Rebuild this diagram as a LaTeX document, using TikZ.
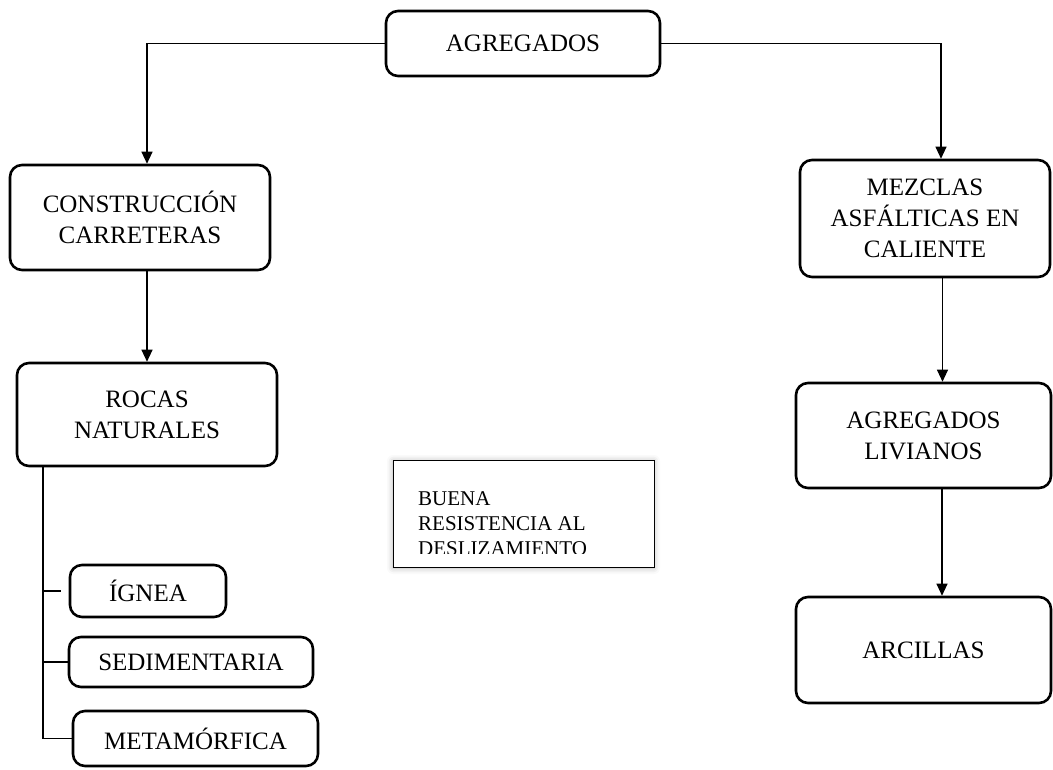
\documentclass[tikz,border=0pt]{standalone}
\usepackage{fontspec}
\setmainfont{Liberation Serif}
\usetikzlibrary{arrows.meta,shadows.blur}
\begin{document}
\begin{tikzpicture}[x=1pt,y=-1pt,
  box/.style={draw,line width=2.6pt,rounded corners=12pt,align=center,inner sep=0pt,
    font=\fontsize{25}{31}\selectfont},
  conn/.style={line width=1.1pt,-{Triangle[length=12pt,width=11pt]}},
  tree/.style={line width=1.1pt},
  note/.style={draw,line width=1pt,inner sep=0pt,fill=white,
    blur shadow={shadow xshift=0pt,shadow yshift=-1pt,shadow blur radius=6pt,shadow opacity=30}},
  notetext/.style={anchor=base west,inner sep=0pt,font=\fontsize{21}{25}\selectfont}]
\useasboundingbox (0,0) rectangle (1053,769);
\node[box,minimum width=274pt,minimum height=65pt] (agr) at (523,43.5) {AGREGADOS};
\node[box,minimum width=260pt,minimum height=105pt] (cons) at (140,217.5) {CONSTRUCCIÓN\\CARRETERAS};
\node[box,minimum width=250pt,minimum height=117pt] (mez) at (925,218.5) {MEZCLAS\\ASFÁLTICAS EN\\CALIENTE};
\node[box,minimum width=260pt,minimum height=103pt] (rocas) at (147,414.5) {ROCAS\\NATURALES};
\node[box,minimum width=255pt,minimum height=105pt] (liv) at (923.5,435.5) {AGREGADOS\\LIVIANOS};
\node[box,minimum width=255pt,minimum height=106pt] (arc) at (923.5,650) {ARCILLAS};
\node[box,minimum width=156pt,minimum height=52pt] (ig) at (148,591) {ÍGNEA};
\node[box,minimum width=244pt,minimum height=50pt] (sed) at (191,662) {SEDIMENTARIA};
\node[box,minimum width=245pt,minimum height=55pt] (met) at (195.5,738.5) {METAMÓRFICA};
\node[note,minimum width=261pt,minimum height=107pt] (buena) at (523.5,513.5) {};
\begin{scope}
  \clip (393,460) rectangle (654,553);
  \node[notetext] (b1) at (418,505) {BUENA};
  \node[notetext] (b2) at (418,530) {RESISTENCIA AL};
  \node[notetext] (b3) at (418,555) {DESLIZAMIENTO};
\end{scope}
% connectors
\draw[conn] (agr.west) -| ([xshift=7pt]cons.north);
\draw[conn] (agr.east) -| ([xshift=16pt]mez.north);
\draw[conn] (cons.south -| rocas.north) -- (rocas.north);
\draw[conn] ([xshift=19pt]liv.north |- mez.south) -- ([xshift=19pt]liv.north);
\draw[conn] ([xshift=18.5pt]arc.north |- liv.south) -- ([xshift=18.5pt]arc.north);
\coordinate (tr) at (43,0);
\draw[tree] (rocas.south -| tr) |- (met.west);
\draw[tree] (ig.west -| tr) -- ([xshift=-8pt]ig.west);
\draw[tree] (sed.west -| tr) -- (sed.west);
\end{tikzpicture}
\end{document}
